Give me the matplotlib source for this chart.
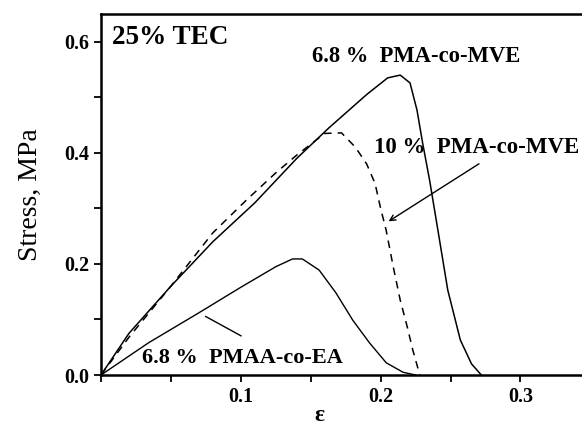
import matplotlib.pyplot as plt
from matplotlib.ticker import MultipleLocator

# datos: deformacion (eps) y tension (MPa)
eps_mve68 = [0, 0.02, 0.05, 0.08, 0.11, 0.14, 0.163, 0.19, 0.205, 0.214,
             0.221, 0.226, 0.230, 0.235, 0.241, 0.248, 0.257, 0.265, 0.272]
stress_mve68 = [0, 0.075, 0.16, 0.24, 0.31, 0.39, 0.445, 0.505, 0.535, 0.54,
                0.526, 0.477, 0.418, 0.351, 0.26, 0.153, 0.063, 0.02, 0.0]

eps_mve10 = [0, 0.02, 0.05, 0.08, 0.104, 0.125, 0.14, 0.16, 0.172, 0.182,
             0.190, 0.196, 0.200, 0.204, 0.209, 0.214, 0.219, 0.223, 0.228]
stress_mve10 = [0, 0.068, 0.16, 0.256, 0.315, 0.364, 0.396, 0.435, 0.436, 0.41,
                0.38, 0.345, 0.30, 0.26, 0.195, 0.135, 0.087, 0.045, 0.0]

eps_ea68 = [0, 0.034, 0.070, 0.10, 0.125, 0.137, 0.144, 0.156, 0.168, 0.180,
            0.192, 0.204, 0.216, 0.225]
stress_ea68 = [0, 0.058, 0.112, 0.158, 0.195, 0.209, 0.209, 0.189, 0.148, 0.099,
               0.058, 0.022, 0.005, 0.0]

plt.rcParams['font.family'] = ['Liberation Serif', 'DejaVu Serif']

fig = plt.figure(figsize=(5.82, 4.25), dpi=100)
ax = fig.add_axes([0.1735, 0.1176, 0.8265, 0.8494])

ax.plot(eps_mve68, stress_mve68, color='black', lw=1.1)
ax.plot(eps_mve10, stress_mve10, color='black', lw=1.1, ls=(0, (5, 4)))
ax.plot(eps_ea68, stress_ea68, color='black', lw=1.0)

ax.set_xlim(0, 0.344)
ax.set_ylim(0, 0.65)

ax.xaxis.set_major_locator(MultipleLocator(0.1))
ax.xaxis.set_minor_locator(MultipleLocator(0.05))
ax.yaxis.set_major_locator(MultipleLocator(0.2))
ax.yaxis.set_minor_locator(MultipleLocator(0.1))
ax.set_xticks([0.1, 0.2, 0.3])
ax.set_xticklabels(['0.1', '0.2', '0.3'])
ax.set_yticks([0.0, 0.2, 0.4, 0.6])
ax.set_yticklabels(['0.0', '0.2', '0.4', '0.6'])

ax.tick_params(which='both', direction='out', width=1.3, labelsize=14.5)
ax.tick_params(which='major', length=5)
ax.tick_params(which='minor', length=5)
for lab in ax.get_xticklabels() + ax.get_yticklabels():
    lab.set_fontweight('bold')

for s in ['left', 'bottom', 'top']:
    ax.spines[s].set_linewidth(1.8)
ax.spines['right'].set_visible(False)

ax.set_ylabel('Stress, MPa', fontsize=20, labelpad=15)
ax.set_xlabel('ε', fontsize=17, fontweight='bold', va='center')
ax.xaxis.set_label_coords(0.455, -0.112)

ax.text(0.0076, 0.608, '25% TEC', fontsize=19.5, fontweight='bold', va='center')
ax.text(0.151, 0.574, '6.8 %  PMA-co-MVE', fontsize=16.3, fontweight='bold', va='center')
ax.text(0.195, 0.409, '10 %  PMA-co-MVE', fontsize=16.5, fontweight='bold', va='center')
ax.text(0.029, 0.031, '6.8 %  PMAA-co-EA', fontsize=16, fontweight='bold', va='center')

ax.annotate('', xy=(0.204, 0.274), xytext=(0.272, 0.383),
            arrowprops=dict(arrowstyle='->', color='black', lw=1.0))
ax.annotate('', xy=(0.073, 0.108), xytext=(0.102, 0.068),
            arrowprops=dict(arrowstyle='-', color='black', lw=1.0))

fig.savefig('out.png', dpi=100)
